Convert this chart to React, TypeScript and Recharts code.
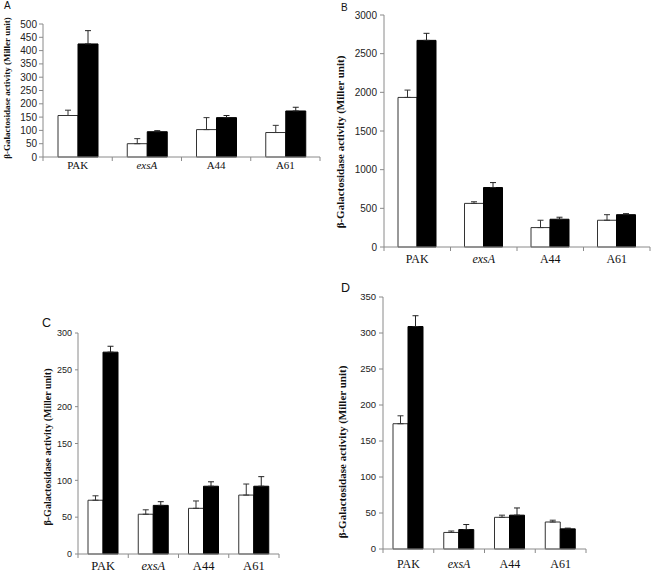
import React from 'react';
import { BarChart, Bar, XAxis, YAxis, ErrorBar } from 'recharts';

const categories = ['PAK', 'exsA', 'A44', 'A61'];

// Panel A
const aWhite = [156, 50, 103, 92];
const aWhiteErr = [20, 19, 45, 27];
const aBlack = [425, 95, 148, 173];
const aBlackErr = [50, 4, 8, 14];
const aTicks = [0, 50, 100, 150, 200, 250, 300, 350, 400, 450, 500];

// Panel B
const bWhite = [1934, 564, 251, 346];
const bWhiteErr = [95, 21, 95, 72];
const bBlack = [2672, 769, 359, 418];
const bBlackErr = [91, 64, 26, 13];
const bTicks = [0, 500, 1000, 1500, 2000, 2500, 3000];

// Panel C
const cWhite = [73, 54, 62, 80];
const cWhiteErr = [6, 6, 10, 15];
const cBlack = [274, 66, 92, 92];
const cBlackErr = [8, 5, 6, 13];
const cTicks = [0, 50, 100, 150, 200, 250, 300];

// Panel D
const dWhite = [174, 23, 44, 37.5];
const dWhiteErr = [11, 2, 3, 2.5];
const dBlack = [309, 27, 47, 28];
const dBlackErr = [15, 7, 10, 1];
const dTicks = [0, 50, 100, 150, 200, 250, 300, 350];

const yTitle = 'β-Galactosidase activity (Miller unit)';

const AXIS = '#8a8a8a';
const SERIF = "'Liberation Serif', 'Times New Roman', serif";
const SANS = "'Liberation Sans', Arial, sans-serif";

function build(w: number[], we: number[], b: number[], be: number[]) {
  return categories.map((c, i) => ({
    cat: c,
    white: w[i],
    whiteErr: [0, we[i]],
    black: b[i],
    blackErr: [0, be[i]],
  }));
}

type PanelProps = {
  data: any[];
  ticks: number[];
  left: number;
  top: number;
  width: number;
  height: number;
  margin: { top: number; right: number; bottom: number; left: number };
  yWidth: number;
  xHeight: number;
  barSize: number;
  yTickSize: number;
  yTickMargin: number;
  yFont: number;
  xFont: number;
  xDy: number;
  titleFont: number;
  titleX: number;
  titleY: number;
  border: string;
};

function Panel(p: PanelProps) {
  const plotW = p.width - p.margin.left - p.margin.right - p.yWidth;
  const half = plotW / 8;
  const max = p.ticks[p.ticks.length - 1];
  const XTick = (props: any) => {
    const { x, y, payload, index } = props;
    const italic = payload.value === 'exsA';
    return (
      <g>
        <line x1={x - half} x2={x - half} y1={y} y2={y + 4} stroke={AXIS} />
        {index === 3 && <line x1={x + half} x2={x + half} y1={y} y2={y + 4} stroke={AXIS} />}
        <text
          x={x}
          y={y + p.xDy}
          textAnchor="middle"
          fontFamily={SERIF}
          fontSize={p.xFont}
          fontStyle={italic ? 'italic' : 'normal'}
          fill="#111"
        >
          {payload.value}
        </text>
      </g>
    );
  };
  const titleContent = () => (
    <text
      x={p.titleX}
      y={p.titleY}
      transform={`rotate(-90 ${p.titleX} ${p.titleY})`}
      textAnchor="middle"
      fontFamily={SERIF}
      fontWeight="bold"
      fontSize={p.titleFont}
      fill="#111"
    >
      {yTitle}
    </text>
  );
  return (
    <div style={{ position: 'absolute', left: p.left, top: p.top, width: p.width, height: p.height }}>
      <BarChart width={p.width} height={p.height} data={p.data} margin={p.margin} barGap={0}>
        <XAxis
          dataKey="cat"
          height={p.xHeight}
          tickLine={false}
          tickSize={0}
          tickMargin={0}
          axisLine={{ stroke: AXIS }}
          tick={XTick}
          interval={0}
        />
        <XAxis
          xAxisId="top"
          orientation="top"
          dataKey="cat"
          height={0}
          tick={false}
          tickLine={false}
          axisLine={{ stroke: p.border }}
        />
        <YAxis
          width={p.yWidth}
          domain={[0, max]}
          ticks={p.ticks}
          interval={0}
          tickSize={p.yTickSize}
          tickMargin={p.yTickMargin}
          tickLine={{ stroke: AXIS }}
          axisLine={{ stroke: AXIS }}
          tick={{ fontSize: p.yFont, fill: '#222', fontFamily: SANS }}
          label={{ content: titleContent }}
        />
        <YAxis
          yAxisId="right"
          orientation="right"
          width={0}
          domain={[0, max]}
          tick={false}
          tickLine={false}
          axisLine={{ stroke: p.border }}
        />
        <Bar dataKey="white" fill="#ffffff" stroke="#333" strokeWidth={1} barSize={p.barSize} isAnimationActive={false}>
          <ErrorBar dataKey="whiteErr" direction="y" width={3} stroke="#333" strokeWidth={1} />
        </Bar>
        <Bar dataKey="black" fill="#000000" stroke="#000" strokeWidth={1} barSize={p.barSize} isAnimationActive={false}>
          <ErrorBar dataKey="blackErr" direction="y" width={3} stroke="#222" strokeWidth={1} />
        </Bar>
      </BarChart>
    </div>
  );
}

const letterStyle = (left: number, top: number, size: number): React.CSSProperties => ({
  position: 'absolute',
  left,
  top,
  fontFamily: SANS,
  fontSize: size,
  lineHeight: `${size}px`,
  color: '#111',
});

export default function App() {
  return (
    <div style={{ position: 'absolute', left: 0, top: 0, width: 652, height: 572, background: '#fff', overflow: 'hidden' }}>
      <div style={letterStyle(4, 1, 10)}>A</div>
      <div style={letterStyle(341, 3, 10)}>B</div>
      <div style={letterStyle(42, 317, 12.5)}>C</div>
      <div style={letterStyle(341, 282, 12.5)}>D</div>

      <Panel
        data={build(aWhite, aWhiteErr, aBlack, aBlackErr)}
        ticks={aTicks}
        left={0}
        top={0}
        width={330}
        height={190}
        margin={{ top: 24, right: 10, bottom: 13, left: 3 }}
        yWidth={40}
        xHeight={20}
        barSize={20}
        yTickSize={4}
        yTickMargin={2}
        yFont={10}
        xFont={11}
        xDy={12}
        titleFont={9}
        titleX={10}
        titleY={88}
        border="#dddddd"
      />
      <Panel
        data={build(bWhite, bWhiteErr, bBlack, bBlackErr)}
        ticks={bTicks}
        left={330}
        top={0}
        width={322}
        height={275}
        margin={{ top: 15, right: 2, bottom: 8, left: 9 }}
        yWidth={45}
        xHeight={20}
        barSize={19}
        yTickSize={4}
        yTickMargin={3}
        yFont={10}
        xFont={12}
        xDy={16}
        titleFont={11}
        titleX={14}
        titleY={142}
        border="#bbbbbb"
      />
      <Panel
        data={build(cWhite, cWhiteErr, cBlack, cBlackErr)}
        ticks={cTicks}
        left={0}
        top={290}
        width={330}
        height={282}
        margin={{ top: 43, right: 51, bottom: 0, left: 33 }}
        yWidth={45}
        xHeight={18}
        barSize={15}
        yTickSize={3}
        yTickMargin={3}
        yFont={9}
        xFont={12.5}
        xDy={15.5}
        titleFont={10}
        titleX={50.5}
        titleY={157}
        border="#999999"
      />
      <Panel
        data={build(dWhite, dWhiteErr, dBlack, dBlackErr)}
        ticks={dTicks}
        left={330}
        top={280}
        width={322}
        height={292}
        margin={{ top: 17, right: 66, bottom: 3, left: 8 }}
        yWidth={45}
        xHeight={20}
        barSize={15}
        yTickSize={4}
        yTickMargin={3}
        yFont={9.5}
        xFont={12}
        xDy={19}
        titleFont={11}
        titleX={16}
        titleY={172}
        border="#aaaaaa"
      />
    </div>
  );
}
